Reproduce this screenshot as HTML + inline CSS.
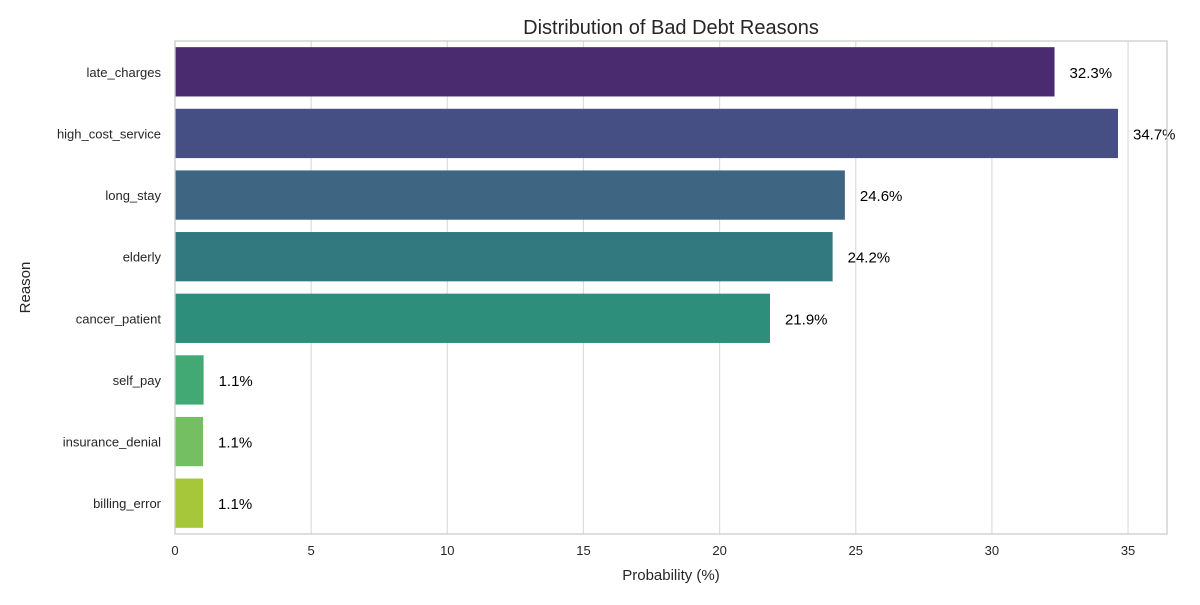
<!DOCTYPE html>
<html><head><meta charset="utf-8"><style>
body{margin:0;background:#fff;}
svg text{font-family:"Liberation Sans",Arial,sans-serif;}
</style></head><body>
<svg id="chart" width="1200" height="600" xmlns="http://www.w3.org/2000/svg"></svg>
<script>
const categories=["late_charges","high_cost_service","long_stay","elderly","cancer_patient","self_pay","insurance_denial","billing_error"];
const values=[32.3,34.63,24.6,24.15,21.85,1.05,1.03,1.03];
const labels=["32.3%","34.7%","24.6%","24.2%","21.9%","1.1%","1.1%","1.1%"];
const colors=["#4a2b70","#464f83","#3e6683","#32787f","#2d8e7b","#42a874","#74bf62","#a7c73b"];
const xticks=[0,5,10,15,20,25,30,35];

const L=175,R=1167,T=41,B=534,XMAX=36.43;
const svg=document.getElementById('chart');
const NS="http://www.w3.org/2000/svg";
const xs=v=>L+v/XMAX*(R-L);
const band=(B-T)/categories.length;
const yc=i=>T+band*(i+0.5);
function mk(tag,attrs,parent){const e=document.createElementNS(NS,tag);for(const k in attrs)e.setAttribute(k,attrs[k]);(parent||svg).appendChild(e);return e;}

const grid=mk('g',{});


xticks.forEach(t=>{
  const l=mk('line',{x1:xs(t),x2:xs(t),y1:T,y2:B,stroke:'#dcdcdc','stroke-width':1.2},grid);
  
  
  const tx=mk('text',{x:xs(t),y:B+21,'text-anchor':'middle','font-size':13,fill:'#262626'});
  tx.textContent=t;
  
  
});
categories.forEach((c,i)=>{
  const h=band*0.8;
  const r=mk('rect',{x:L,y:yc(i)-h/2,width:xs(values[i])-L,height:h,fill:colors[i]});
  
  
  const yl=mk('text',{x:161,y:yc(i)+5,'text-anchor':'end','font-size':13,fill:'#262626'});
  yl.textContent=c;
  
  
  const vl=mk('text',{x:xs(values[i])+15,y:yc(i)+6,'font-size':15,fill:'#000'});
  vl.textContent=labels[i];
  
  
});
const fr=mk('rect',{x:L,y:T,width:R-L,height:B-T,fill:'none',stroke:'#cccccc','stroke-width':1.3});


const ti=mk('text',{x:(L+R)/2,y:34,'text-anchor':'middle','font-size':20,fill:'#262626'});
ti.textContent="Distribution of Bad Debt Reasons";


const xt=mk('text',{x:(L+R)/2,y:580,'text-anchor':'middle','font-size':15,fill:'#262626'});
xt.textContent="Probability (%)";


const yt=mk('text',{x:30,y:(T+B)/2,'text-anchor':'middle','font-size':15,fill:'#262626',transform:`rotate(-90 30 ${(T+B)/2})`});
yt.textContent="Reason";


</script>
</body></html>
